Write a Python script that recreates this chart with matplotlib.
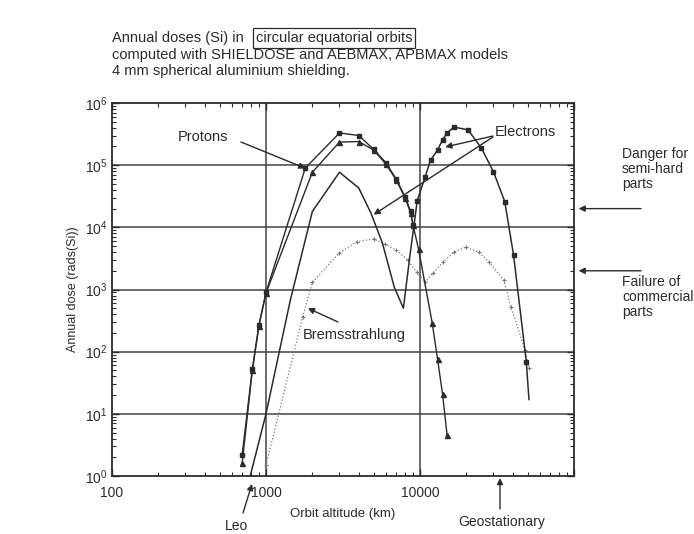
import matplotlib
matplotlib.use('Agg')
import matplotlib.pyplot as plt
from matplotlib.ticker import LogLocator, NullFormatter

plt.rcParams['font.family'] = ['Liberation Sans', 'DejaVu Sans']

# altitude (km) / annual dose (rads(Si))
prot_sq_alt = [700, 815, 900, 1000, 1800, 3000, 4000, 5000, 6000, 7000, 8000, 8700, 9000]
prot_sq_dose = [2.2, 52, 270, 900, 90000, 330000, 300000, 180000, 110000, 60000, 31000, 18000, 11000]

prot_tri_alt = [700, 815, 900, 1000, 2000, 3000, 4000, 5000, 6000, 7000, 8000, 8700, 9000,
                9800, 12000, 13000, 14000, 15000]
prot_tri_dose = [1.6, 50, 260, 880, 77000, 235000, 240000, 175000, 105000, 58000, 30000, 17000,
                 11000, 4400, 290, 76, 21, 4.5]

elec_alt = [790, 1000, 1440, 2000, 3000, 4000, 4800, 5700, 6800, 7800, 8600, 9600, 10800, 11700,
            13000, 14000, 15000, 16600, 20500, 25000, 30000, 35500, 40500, 49000, 51000]
elec_dose = [1, 10, 680, 18000, 77000, 43000, 17000, 5600, 1100, 500, 3500, 27000, 65000, 120000,
             175000, 255000, 330000, 410000, 370000, 190000, 78000, 26000, 3600, 69, 17]
elec_marked = list(range(11, 24))

brem_alt = [1000, 1730, 2000, 3000, 3900, 5000, 5900, 7000, 8300, 9500, 10800, 12200, 14200,
            16600, 19800, 24000, 28000, 35000, 39000, 48000, 51000]
brem_dose = [1.5, 360, 1300, 3900, 5900, 6500, 5400, 4300, 3000, 1900, 1300, 1850, 2800, 4000,
             4800, 4000, 2800, 1400, 520, 107, 55]

x_ticks = [100, 1000, 10000, 100000]
x_labels = ['100', '1000', '10000', '']
limits = [2e4, 2e3]  # danger / failure levels

ink = '#2b2b2b'
H = 534
fs = 10.5

fig = plt.figure(figsize=(6.94, 5.34), dpi=100)
ax = fig.add_axes([112 / 694, 1 - 476 / H, (574 - 112) / 694, (476 - 103) / H])
ax.set_xscale('log')
ax.set_yscale('log')
ax.set_xlim(100, 100000)
ax.set_ylim(1, 1e6)

for d in [10, 100, 1000, 10000, 100000]:
    ax.axhline(d, color='#444444', lw=1.1, zorder=1)
for a in [1000, 10000]:
    ax.axvline(a, color='#444444', lw=1.1, zorder=1)

ax.plot(prot_sq_alt, prot_sq_dose, color=ink, lw=1.0, marker='s', ms=3.2, zorder=3)
ax.plot(prot_tri_alt, prot_tri_dose, color=ink, lw=1.0, marker='^', ms=3.6, zorder=3)
ax.plot(elec_alt, elec_dose, color=ink, lw=1.1, marker='s', ms=3.2, markevery=elec_marked, zorder=3)
ax.plot(brem_alt, brem_dose, color='#777777', lw=0.9, ls=':', marker='+', ms=3.5, mew=0.8, zorder=2)

ax.set_xticks(x_ticks)
ax.set_xticklabels(x_labels)
ax.xaxis.set_minor_locator(LogLocator(base=10, subs=range(2, 10), numticks=20))
ax.xaxis.set_minor_formatter(NullFormatter())
ax.yaxis.set_major_locator(LogLocator(base=10, numticks=10))
ax.yaxis.set_minor_locator(LogLocator(base=10, subs=range(2, 10), numticks=20))
ax.yaxis.set_minor_formatter(NullFormatter())
ax.tick_params(which='both', direction='in', top=True, right=True, colors=ink, labelsize=10)
ax.tick_params(which='major', length=5, width=1)
ax.tick_params(axis='x', which='major', pad=7)
ax.tick_params(which='minor', length=3, width=0.8)
for s in ax.spines.values():
    s.set_color(ink)
    s.set_linewidth(1.3)

ax.set_xlabel('Orbit altitude (km)', fontsize=fs - 1, color=ink, labelpad=6)
ax.set_ylabel('Annual dose (rads(Si))', fontsize=fs - 1.5, color=ink, labelpad=4)


def px(x, y):
    return (x, H - y)


# header
fig.text(112 / 694, 1 - 42 / H, 'Annual doses (Si) in', fontsize=fs, color=ink)
fig.text(256 / 694, 1 - 42 / H, 'circular equatorial orbits', fontsize=fs, color=ink,
         bbox=dict(boxstyle='square,pad=0.2', fc='none', ec=ink, lw=0.9))
fig.text(112 / 694, 1 - 59 / H, 'computed with SHIELDOSE and AEBMAX, APBMAX models', fontsize=fs, color=ink)
fig.text(112 / 694, 1 - 75 / H, '4 mm spherical aluminium shielding.', fontsize=fs, color=ink)

arrow = dict(arrowstyle='-|>', color=ink, lw=1.0, mutation_scale=9, shrinkA=0, shrinkB=0)

ax.annotate('Protons', xy=(1800, 89000), xytext=px(178, 141), textcoords='figure pixels',
            fontsize=fs, color=ink, va='baseline', ha='left')
ax.annotate('', xy=(1800, 89000), xytext=px(241, 142), textcoords='figure pixels', arrowprops=arrow)

ax.annotate('Electrons', xy=(14600, 196000), xytext=px(495, 136), textcoords='figure pixels',
            fontsize=fs, color=ink, va='baseline', ha='left')
ax.annotate('', xy=(14600, 196000), xytext=px(493, 136), textcoords='figure pixels', arrowprops=arrow)
ax.annotate('', xy=(5000, 16000), xytext=px(493, 137), textcoords='figure pixels', arrowprops=arrow)

ax.annotate('Bremsstrahlung', xy=(1870, 500), xytext=px(303, 339), textcoords='figure pixels',
            fontsize=fs, color=ink, va='baseline', ha='left')
ax.annotate('', xy=(1870, 500), xytext=px(338, 322), textcoords='figure pixels', arrowprops=arrow)

fig.text(236 / 694, 1 - 526 / H, 'Leo', fontsize=fs - 0.5, color=ink, ha='center', va='center')
ax.annotate('', xy=px(252, 484), xycoords='figure pixels', xytext=px(243, 513),
            textcoords='figure pixels', arrowprops=arrow, annotation_clip=False)

fig.text(502 / 694, 1 - 522 / H, 'Geostationary', fontsize=fs - 0.5, color=ink, ha='center', va='center')
ax.annotate('', xy=px(500, 478), xycoords='figure pixels', xytext=px(500, 509),
            textcoords='figure pixels', arrowprops=arrow, annotation_clip=False)

for lvl in limits:
    ax.annotate('', xy=(1.01, lvl), xycoords=('axes fraction', 'data'), xytext=(1.145, lvl),
                textcoords=('axes fraction', 'data'), arrowprops=arrow, annotation_clip=False)

fig.text(622 / 694, 1 - 147 / H, 'Danger for\nsemi-hard\nparts', fontsize=fs - 0.5, color=ink,
         va='top', linespacing=1.1)
fig.text(622 / 694, 1 - 275 / H, 'Failure of\ncommercial\nparts', fontsize=fs - 0.5, color=ink,
         va='top', linespacing=1.1)

fig.savefig('out.png', dpi=100, facecolor='white')
